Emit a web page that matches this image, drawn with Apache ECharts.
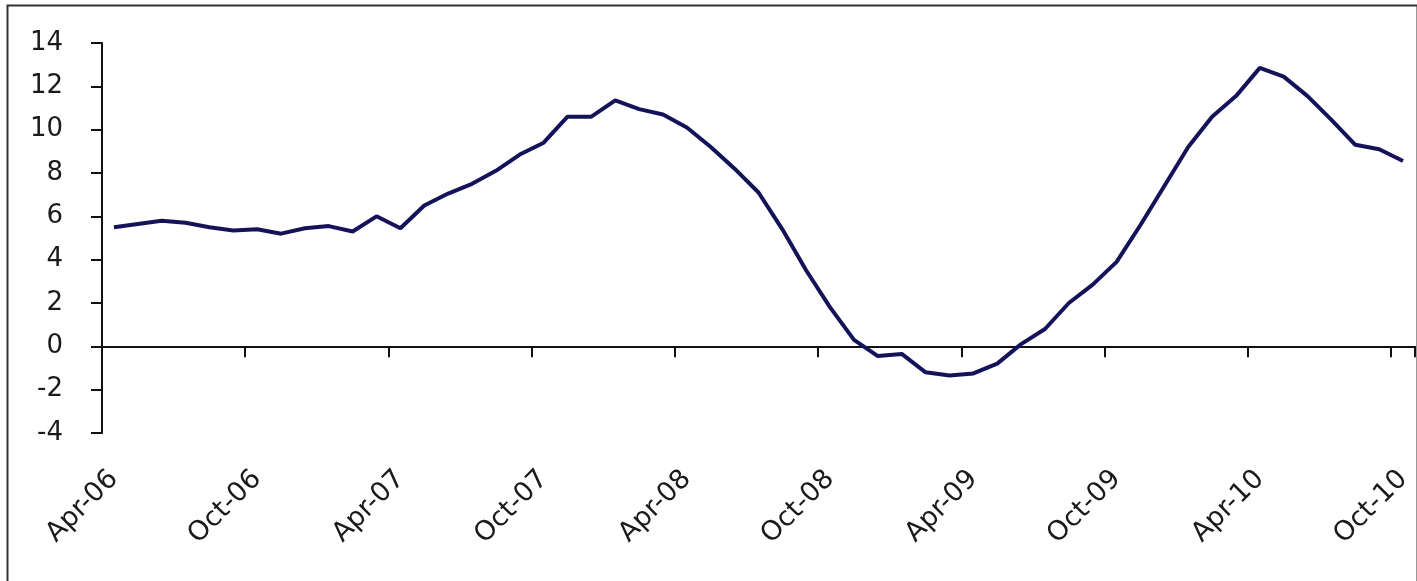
<!DOCTYPE html>
<html>
<head>
<meta charset="utf-8">
<title>line chart</title>
<script src="https://cdn.jsdelivr.net/npm/echarts@6/dist/echarts.min.js"></script>
<style>
    html, body {
        margin: 0;
        padding: 0;
        background: #fff;
    }
    #chart {
        width: 1417px;
        height: 581px;
    }
</style>
</head>
<body>
<div id="chart"></div>
<script>
    // month names and years used for the category labels (Apr-06 .. Oct-10)
    var monthNames = ['Jan', 'Feb', 'Mar', 'Apr', 'May', 'Jun', 'Jul', 'Aug', 'Sep', 'Oct', 'Nov', 'Dec']
    var years = ['06', '07', '08', '09', '10']

    // monthly values
    var values = [
        5.5, 5.65, 5.8, 5.7, 5.5, 5.35, 5.4, 5.2, 5.45, 5.55,
        5.3, 6.0, 5.45, 6.5, 7.05, 7.5, 8.1, 8.85, 9.4, 10.6,
        10.6, 11.35, 10.95, 10.7, 10.1, 9.2, 8.2, 7.1, 5.4, 3.5,
        1.8, 0.3, -0.45, -0.35, -1.2, -1.35, -1.25, -0.8, 0.1, 0.8,
        2.0, 2.85, 3.9, 5.6, 7.4, 9.2, 10.6, 11.55, 12.85, 12.45,
        11.55, 10.45, 9.3, 9.1, 8.55
    ]

    // y axis range
    var yMin = -4
    var yMax = 14
    var yStep = 2

    // build category list, starting at Apr-06
    var categories = []
    for (var y = 0; y < years.length; y++) {
        for (var m = 0; m < 12; m++) {
            if (y === 0 && m < 3) continue
            if (categories.length >= values.length) break
            categories.push(monthNames[m] + '-' + years[y])
        }
    }

    var chart = echarts.init(document.getElementById('chart'))

    var fontFamily = '"DejaVu Sans", Verdana, sans-serif'

    var option = {
        backgroundColor: '#fff',
        animation: false,
        grid: {
            left: 102,
            right: 2,
            top: 43,
            bottom: 148
        },
        // frame round the whole chart
        graphic: [{
            type: 'rect',
            left: 5,
            top: 3,
            shape: { width: 1410, height: 600 },
            style: { fill: 'none', stroke: '#333', lineWidth: 2 },
            silent: true
        }],
        xAxis: [{
            // labels only, sitting at the bottom of the plot
            type: 'category',
            position: 'bottom',
            data: categories,
            boundaryGap: true,
            axisLine: { show: false, onZero: false },
            axisTick: { show: false },
            axisLabel: {
                interval: 5,
                rotate: 45,
                margin: 42,
                color: '#1a1a1a',
                fontSize: 27,
                fontFamily: fontFamily
            },
            splitLine: { show: false }
        }, {
            // the line at zero with its ticks
            type: 'category',
            position: 'bottom',
            data: categories,
            boundaryGap: true,
            axisLine: {
                show: true,
                onZero: true,
                lineStyle: { color: '#111', width: 2 }
            },
            axisTick: {
                show: true,
                interval: 5,
                length: 11,
                lineStyle: { color: '#111', width: 2 }
            },
            axisLabel: { show: false },
            splitLine: { show: false }
        }],
        yAxis: {
            type: 'value',
            min: yMin,
            max: yMax,
            interval: yStep,
            axisLine: {
                show: true,
                lineStyle: { color: '#111', width: 2 }
            },
            axisTick: {
                show: true,
                length: 11,
                lineStyle: { color: '#111', width: 2 }
            },
            axisLabel: {
                margin: 39,
                color: '#1a1a1a',
                fontSize: 26,
                fontFamily: fontFamily
            },
            splitLine: { show: false }
        },
        series: [{
            type: 'line',
            xAxisIndex: 0,
            data: values,
            showSymbol: false,
            symbol: 'none',
            lineStyle: { color: '#14135a', width: 4 },
            z: 5
        }]
    }

    chart.setOption(option)
</script>
</body>
</html>
